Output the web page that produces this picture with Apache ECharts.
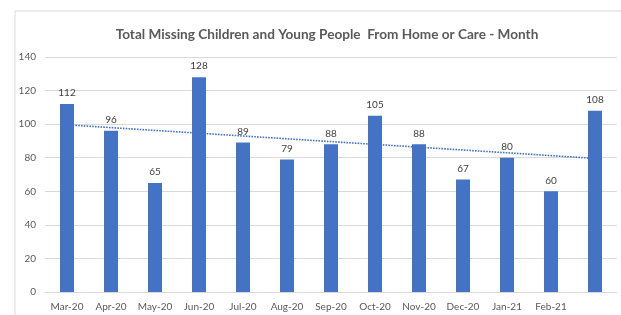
<!DOCTYPE html>
<html><head><meta charset="utf-8">
<script src="https://cdn.jsdelivr.net/npm/echarts@6/dist/echarts.min.js"></script>
<style>html,body{margin:0;padding:0;background:#fff}#c{width:621px;height:315px}</style>
</head><body><div id="c"></div>
<script>
const categories = ['Mar-20','Apr-20','May-20','Jun-20','Jul-20','Aug-20','Sep-20','Oct-20','Nov-20','Dec-20','Jan-21','Feb-21',''];
const values = [112,96,65,128,89,79,88,105,88,67,80,60,108];
const trendStart = 99.6;
const trendEnd = 79.6;
const yTicks = [0,20,40,60,80,100,120,140];

const trend = categories.map((c,i)=> i===0 ? trendStart : (i===categories.length-1 ? trendEnd : null));

const chart = echarts.init(document.getElementById('c'));
chart.setOption({
  animation:false,
  graphic:[{type:'rect',shape:{x:15,y:11,width:640,height:340},style:{fill:'none',stroke:'#d9d9d9',lineWidth:1},silent:true}],
  title:{text:'Total Missing Children and Young People  From Home or Care - Month',left:322,top:23,textAlign:'center',
    textStyle:{fontFamily:'Lato',fontSize:13.6,fontWeight:'bold',color:'#595959'}},
  grid:{left:45,right:4,top:57,bottom:23,containLabel:false},
  xAxis:{type:'category',data:categories,axisTick:{show:false},
    axisLine:{lineStyle:{color:'#d9d9d9'}},
    axisLabel:{color:'#595959',fontFamily:'Lato',fontSize:10,margin:10,interval:0}},
  yAxis:{type:'value',min:yTicks[0],max:yTicks[yTicks.length-1],interval:20,
    axisLabel:{color:'#595959',fontFamily:'Lato',fontSize:10,margin:9},
    splitLine:{lineStyle:{color:'#d9d9d9'}},axisLine:{show:false},axisTick:{show:false}},
  series:[
    {type:'line',data:trend,connectNulls:true,symbol:'none',z:1,
     lineStyle:{color:'#4472C4',width:1.6,type:[1.6,1.2]}},
    {type:'bar',data:values,barWidth:14,z:3,
     itemStyle:{color:'#4472C4'},
     label:{show:true,position:'top',distance:6,color:'#404040',fontFamily:'Lato',fontSize:10}}
  ]
});
</script></body></html>
